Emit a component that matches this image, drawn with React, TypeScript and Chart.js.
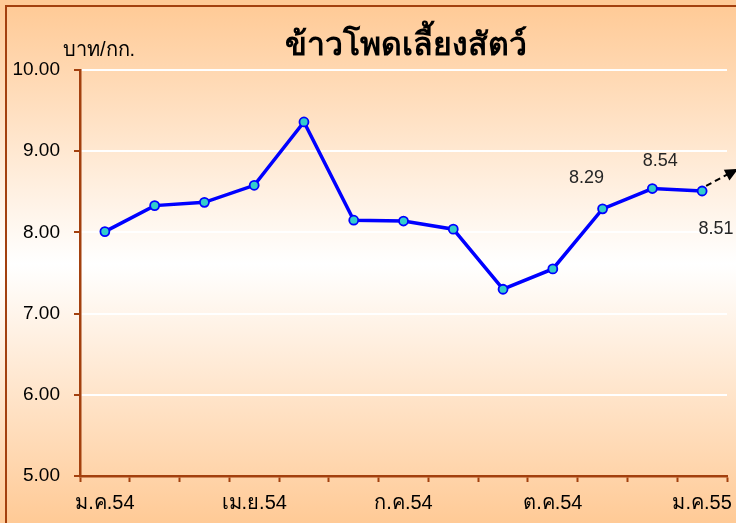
import React, { useEffect, useRef } from "react";
import { Chart, registerables } from "chart.js";

Chart.register(...registerables);

const months = [
  "ม.ค.54", "ก.พ.54", "มี.ค.54", "เม.ย.54", "พ.ค.54", "มิ.ย.54", "ก.ค.54",
  "ส.ค.54", "ก.ย.54", "ต.ค.54", "พ.ย.54", "ธ.ค.54", "ม.ค.55",
];
const prices = [8.01, 8.33, 8.37, 8.58, 9.36, 8.15, 8.14, 8.04, 7.3, 7.55, 8.29, 8.54, 8.51];
const labeledIdx = [10, 11, 12];
const title = "ข้าวโพดเลี้ยงสัตว์";
const unitLabel = "บาท/กก.";

const FONT = "Tahoma, 'Liberation Sans', sans-serif";
const BROWN = "#A3400E";

const decorPlugin = {
  id: "decor",
  beforeDraw(chart: any) {
    const { ctx, width, height } = chart;
    ctx.save();
    const g = ctx.createLinearGradient(0, 5, 0, height);
    g.addColorStop(0, "#FFCA96");
    g.addColorStop(0.5, "#FFFFFF");
    g.addColorStop(1, "#FFCA96");
    ctx.fillStyle = g;
    ctx.fillRect(0, 0, width, height);
    ctx.strokeStyle = BROWN;
    ctx.lineWidth = 2;
    ctx.strokeRect(6, 6, width + 10, height + 10);
    ctx.restore();
  },
  afterDraw(chart: any) {
    const { ctx, chartArea } = chart;
    ctx.save();
    // title
    ctx.fillStyle = "#000";
    ctx.font = `bold 32px ${FONT}`;
    ctx.textAlign = "center";
    ctx.textBaseline = "middle";
    ctx.fillText(title, (chartArea.left + chartArea.right) / 2 + 2, 46);
    // unit
    ctx.font = `20px ${FONT}`;
    ctx.textAlign = "left";
    ctx.fillText(unitLabel, 63, 50);
    // data labels
    const meta = chart.getDatasetMeta(0);
    const offsets: Record<number, [number, number]> = { 10: [-16, -31], 11: [8, -28], 12: [14, 38] };
    ctx.font = `18px ${FONT}`;
    ctx.fillStyle = "#262626";
    ctx.textAlign = "center";
    labeledIdx.forEach((i) => {
      const p = meta.data[i];
      const [dx, dy] = offsets[i];
      ctx.fillText(prices[i].toFixed(2), p.x + dx, p.y + dy);
    });
    // dashed arrow from last point
    const last = meta.data[prices.length - 1];
    const sx = last.x + 4, sy = last.y - 5;
    const ex = last.x + 36, ey = last.y - 22;
    ctx.strokeStyle = "#000";
    ctx.lineWidth = 2;
    ctx.setLineDash([6, 4]);
    ctx.beginPath();
    ctx.moveTo(sx, sy);
    ctx.lineTo(ex - 8, ey + 4);
    ctx.stroke();
    ctx.setLineDash([]);
    const ang = Math.atan2(ey - sy, ex - sx);
    ctx.fillStyle = "#000";
    ctx.beginPath();
    ctx.moveTo(ex, ey);
    ctx.lineTo(ex - 13 * Math.cos(ang) + 6 * Math.sin(ang), ey - 13 * Math.sin(ang) - 6 * Math.cos(ang));
    ctx.lineTo(ex - 13 * Math.cos(ang) - 6 * Math.sin(ang), ey - 13 * Math.sin(ang) + 6 * Math.cos(ang));
    ctx.closePath();
    ctx.fill();
    ctx.restore();
  },
};

export default function App() {
  const ref = useRef<HTMLCanvasElement>(null);
  useEffect(() => {
    if (!ref.current) return;
    const chart = new Chart(ref.current, {
      type: "line",
      data: {
        labels: months,
        datasets: [
          {
            data: prices,
            borderColor: "#0000FF",
            borderWidth: 3.5,
            pointRadius: 4.5,
            pointBackgroundColor: "#33CCCC",
            pointBorderColor: "#0000FF",
            pointBorderWidth: 1.8,
            tension: 0,
          },
        ],
      },
      options: {
        responsive: false,
        animation: false,
        layout: { padding: { top: 70, right: 9, left: 0, bottom: 0 } },
        plugins: { legend: { display: false }, tooltip: { enabled: false }, title: { display: false } },
        scales: {
          x: {
            offset: true,
            afterFit: (s: any) => {
              s.height = 47;
              s.paddingLeft = 0;
              s.paddingRight = 0;
            },
            grid: {
              offset: true,
              drawOnChartArea: false,
              drawTicks: true,
              tickLength: 6,
              tickColor: BROWN,
              tickWidth: 2,
            },
            border: { color: BROWN, width: 2.5 },
            ticks: {
              autoSkip: false,
              maxRotation: 0,
              padding: 9,
              color: "#000",
              font: { family: FONT, size: 20 },
              callback: (_v: any, i: number) => (i % 3 === 0 ? months[i] : ""),
            },
          },
          y: {
            min: 5,
            max: 10,
            afterFit: (s: any) => {
              s.width = 80;
              s.paddingTop = 0;
              s.paddingBottom = 0;
            },
            grid: {
              color: "#FFFFFF",
              lineWidth: 2,
              drawTicks: true,
              tickLength: 6,
              tickColor: BROWN,
              tickWidth: 2,
            },
            border: { color: BROWN, width: 2.5 },
            ticks: {
              stepSize: 1,
              padding: 14,
              color: "#000",
              font: { family: FONT, size: 19 },
              callback: (v: any) => Number(v).toFixed(2),
            },
          },
        },
      },
      plugins: [decorPlugin],
    });
    return () => chart.destroy();
  }, []);
  return (
    <div style={{ position: "fixed", left: 0, top: 0, width: 736, height: 523 }}>
      <canvas ref={ref} width={736} height={523} />
    </div>
  );
}
